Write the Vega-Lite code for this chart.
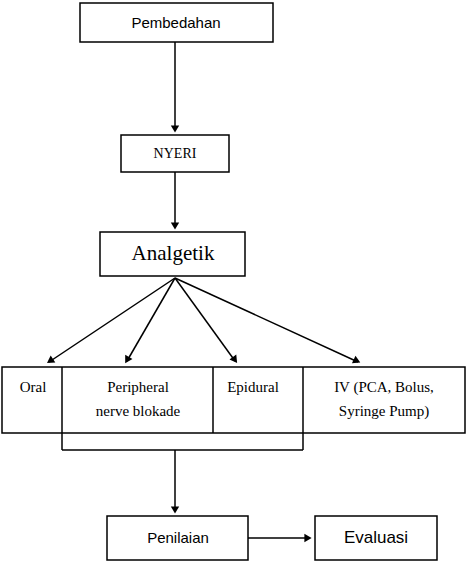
{
"$schema":"https://vega.github.io/schema/vega-lite/v6.json",
"width":467,"height":563,"autosize":{"type":"fit","contains":"padding"},"padding":0,
"config":{"view":{"stroke":null}},
"datasets":{
"boxes":[{"x1":80,"y1":3,"x2":273,"y2":42},{"x1":121,"y1":135,"x2":229,"y2":172},{"x1":100,"y1":232,"x2":245,"y2":276},{"x1":2,"y1":367,"x2":465,"y2":433},{"x1":107,"y1":516,"x2":248,"y2":560},{"x1":315,"y1":516,"x2":437,"y2":560}],
"lines":[{"x1":175,"y1":42,"x2":175,"y2":130},{"x1":175,"y1":172,"x2":175,"y2":227},{"x1":175,"y1":278,"x2":49,"y2":362},{"x1":175,"y1":278,"x2":127,"y2":361},{"x1":175,"y1":278,"x2":235,"y2":361},{"x1":175,"y1":278,"x2":358,"y2":362},{"x1":62,"y1":367,"x2":62,"y2":450},{"x1":213,"y1":367,"x2":213,"y2":433},{"x1":303,"y1":367,"x2":303,"y2":450},{"x1":62,"y1":450,"x2":303,"y2":450},{"x1":175,"y1":450,"x2":175,"y2":510},{"x1":248,"y1":538,"x2":308,"y2":538}],
"heads":[{"x":175,"y":129,"a":180},{"x":175,"y":226,"a":180},{"x":50,"y":361,"a":236},{"x":127,"y":360,"a":210},{"x":235,"y":360,"a":144},{"x":357,"y":361,"a":115},{"x":175,"y":510,"a":180},{"x":308,"y":538,"a":90}],
"sans":[{"x":176,"y":23,"t":"Pembedahan","s":15},{"x":178,"y":538,"t":"Penilaian","s":15},{"x":376,"y":538,"t":"Evaluasi","s":17}],
"serif":[{"x":175,"y":154,"t":"NYERI","s":14},{"x":173,"y":254,"t":"Analgetik","s":21},{"x":33,"y":387,"t":"Oral","s":15},{"x":138,"y":387,"t":"Peripheral","s":15},{"x":138,"y":411,"t":"nerve blokade","s":15},{"x":253,"y":387,"t":"Epidural","s":15},{"x":384,"y":387,"t":"IV (PCA, Bolus,","s":15},{"x":384,"y":411,"t":"Syringe Pump)","s":15}]
},
"layer":[
{"data":{"name":"boxes"},"mark":{"type":"rect","fill":"white","stroke":"black","strokeWidth":1.5},
 "encoding":{"x":{"field":"x1","type":"quantitative","scale":{"domain":[0,467],"nice":false,"zero":false},"axis":null},"x2":{"field":"x2"},"y":{"field":"y1","type":"quantitative","scale":{"domain":[0,563],"nice":false,"zero":false,"reverse":true},"axis":null},"y2":{"field":"y2"}}},
{"data":{"name":"lines"},"mark":{"type":"rule","stroke":"black","strokeWidth":1.5},
 "encoding":{"x":{"field":"x1","type":"quantitative"},"x2":{"field":"x2"},"y":{"field":"y1","type":"quantitative"},"y2":{"field":"y2"}}},
{"data":{"name":"heads"},"mark":{"type":"point","shape":"triangle-up","filled":true,"color":"black","size":70,"opacity":1},
 "encoding":{"x":{"field":"x","type":"quantitative"},"y":{"field":"y","type":"quantitative"},"angle":{"field":"a","type":"quantitative","scale":null}}},
{"data":{"name":"sans"},"mark":{"type":"text","font":"Liberation Sans","baseline":"middle"},
 "encoding":{"x":{"field":"x","type":"quantitative"},"y":{"field":"y","type":"quantitative"},"text":{"field":"t"},"size":{"field":"s","type":"quantitative","scale":null}}},
{"data":{"name":"serif"},"mark":{"type":"text","font":"Liberation Serif","baseline":"middle"},
 "encoding":{"x":{"field":"x","type":"quantitative"},"y":{"field":"y","type":"quantitative"},"text":{"field":"t"},"size":{"field":"s","type":"quantitative","scale":null}}}
]}
